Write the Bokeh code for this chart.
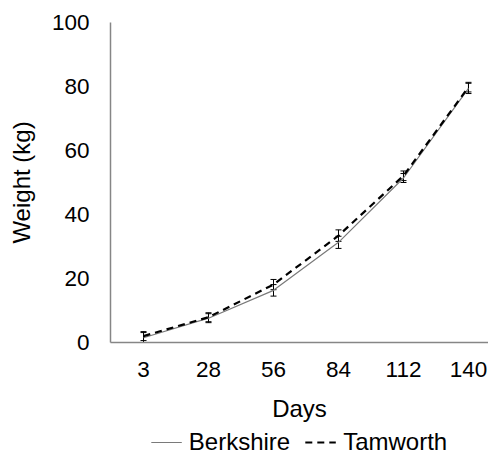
from bokeh.plotting import figure
from bokeh.layouts import column
from bokeh.models import ColumnDataSource, Whisker, TeeHead, FixedTicker, Legend, LegendItem, Range1d
from bokeh.embed import file_html
from bokeh.resources import INLINE

days = ["3", "28", "56", "84", "112", "140"]
berkshire = [1.5, 7.6, 16.3, 31.3, 51.4, 79.4]
berkshire_err = [1.6, 1.4, 1.8, 1.9, 1.4, 1.6]
tamworth = [2.0, 7.9, 18.1, 33.4, 52.1, 79.8]
tamworth_err = [1.4, 1.4, 1.6, 1.8, 1.5, 1.5]
y_ticks = [0, 20, 40, 60, 80, 100]
series_names = ["Berkshire", "Tamworth"]

FONT = "Liberation Sans"
FS_TICK = "22.5px"
FS = "24px"
xi = list(range(len(days)))

B_STYLE = dict(line_color="#7a7a7a", line_width=1.2)
T_STYLE = dict(line_color="black", line_width=2.2, line_dash="7 5")

p = figure(width=488, height=427, output_backend="svg", toolbar_location=None,
           x_range=Range1d(-0.508, 5.308), y_range=Range1d(0, 100),
           min_border_left=110, min_border_top=22, min_border_right=0, min_border_bottom=85)
p.outline_line_color = None
p.grid.grid_line_color = None

src_b = ColumnDataSource(dict(x=xi, y=berkshire,
                              lo=[v - e for v, e in zip(berkshire, berkshire_err)],
                              hi=[v + e for v, e in zip(berkshire, berkshire_err)]))
src_t = ColumnDataSource(dict(x=xi, y=tamworth,
                              lo=[v - e for v, e in zip(tamworth, tamworth_err)],
                              hi=[v + e for v, e in zip(tamworth, tamworth_err)]))

p.line("x", "y", source=src_b, **B_STYLE)
p.line("x", "y", source=src_t, **T_STYLE)

for src in (src_b, src_t):
    w = Whisker(source=src, base="x", lower="lo", upper="hi", line_color="black", line_width=1,
                upper_head=TeeHead(size=6, line_color="black", line_width=1),
                lower_head=TeeHead(size=6, line_color="black", line_width=1))
    p.add_layout(w)

p.xaxis.ticker = FixedTicker(ticks=xi)
p.xaxis.major_label_overrides = {i: d for i, d in enumerate(days)}
p.yaxis.ticker = FixedTicker(ticks=y_ticks)

for ax in (p.xaxis, p.yaxis):
    ax.axis_line_color = "#868686"
    ax.axis_line_width = 1.5
    ax.major_tick_line_color = None
    ax.minor_tick_line_color = None
    ax.major_tick_out = 0
    ax.major_tick_in = 0
    ax.minor_tick_out = 0
    ax.major_label_text_font = FONT
    ax.major_label_text_font_size = FS_TICK
    ax.major_label_text_color = "black"
    ax.axis_label_text_font = FONT
    ax.axis_label_text_font_size = FS
    ax.axis_label_text_font_style = "normal"
    ax.axis_label_text_color = "black"

p.xaxis.axis_label = "Days"
p.yaxis.axis_label = "Weight (kg)"
p.xaxis.major_label_standoff = 19
p.xaxis.axis_label_standoff = 15
p.yaxis.major_label_standoff = 21
p.yaxis.axis_label_standoff = 14

# legend strip below the chart
p2 = figure(width=488, height=29, output_backend="svg", toolbar_location=None,
            x_range=Range1d(100, 101), y_range=Range1d(100, 101),
            x_axis_type=None, y_axis_type=None,
            min_border_left=110, min_border_right=0, min_border_top=0, min_border_bottom=0)
p2.outline_line_color = None
p2.grid.grid_line_color = None
lb = p2.line("x", "y", source=src_b, **B_STYLE)
lt = p2.line("x", "y", source=src_t, **T_STYLE)
legend = Legend(items=[LegendItem(label=series_names[0], renderers=[lb]),
                       LegendItem(label=series_names[1], renderers=[lt])],
                orientation="horizontal", location="center",
                label_text_font=FONT, label_text_font_size=FS, label_text_color="black",
                glyph_width=31, glyph_height=20, label_standoff=7, spacing=15,
                border_line_color=None, background_fill_alpha=0,
                padding=0, margin=0)
p2.add_layout(legend)

layout = column(p, p2, spacing=0)
open("out.html", "w").write(file_html(layout, INLINE))
